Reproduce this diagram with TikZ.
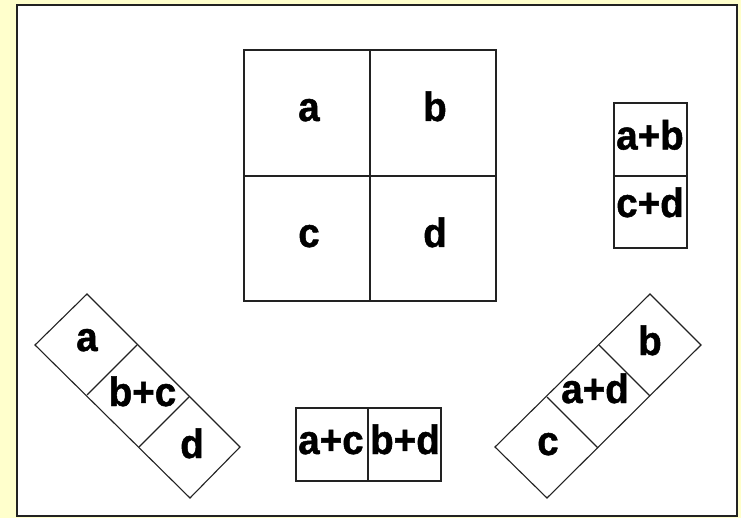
\documentclass[tikz,border=0pt]{standalone}
\usepackage{fontspec}
\setmainfont{Liberation Sans}
\newfontfamily\heavyfont[FakeBold=1.2, FakeStretch=0.94]{Liberation Sans Bold}
\definecolor{bgyellow}{HTML}{FFFFCC}
\definecolor{edge}{HTML}{222222}
\tikzset{
  frame/.style={draw=edge, line width=2pt, fill=white},
  cellline/.style={draw=edge, line width=1.1pt, line join=miter},
  lbl/.style={font=\heavyfont\fontsize{41}{41}\selectfont, anchor=base, inner sep=0pt, text=black}
}
\begin{document}
\begin{tikzpicture}[x=1pt,y=-1pt]
\useasboundingbox (0,0) rectangle (741,518);
\fill[bgyellow] (0,0) rectangle (741,518);
\draw[frame] (17,5) rectangle (737,516);
% big square
\draw[cellline] (244,50) rectangle (496,301);
\draw[cellline] (370,50) -- (370,301);
\draw[cellline] (244,176) -- (496,176);
\node[lbl] (sa) at (309,121) {a};
\node[lbl] (sb) at (435,121) {b};
\node[lbl] (sc) at (309,247) {c};
\node[lbl] (sd) at (435,247) {d};
% tall box right
\draw[cellline] (614,103) rectangle (687,248);
\draw[cellline] (614,176) -- (687,176);
\node[lbl] (tab) at (650,149.5) {a+b};
\node[lbl] (tcd) at (650,217) {c+d};
% bottom box
\draw[cellline] (296,408) rectangle (441,481);
\draw[cellline] (368,408) -- (368,481);
\node[lbl] (bac) at (331,454) {a+c};
\node[lbl] (bbd) at (405,454) {b+d};
% left diagonal strip
\draw[cellline] (87,294) -- (240,447) -- (190,498) -- (35,345) -- cycle;
\draw[cellline] (137,345) -- (87,395);
\draw[cellline] (189,397) -- (139,447);
\node[lbl] (la) at (87,351) {a};
\node[lbl] (lbc) at (142.5,406) {b+c};
\node[lbl] (ld) at (192,458) {d};
% right diagonal strip
\draw[cellline] (650,294) -- (701,345) -- (547,498) -- (495,447) -- cycle;
\draw[cellline] (599,345) -- (650,396);
\draw[cellline] (547,397) -- (598,448);
\node[lbl] (rb) at (650,355) {b};
\node[lbl] (rad) at (595,403) {a+d};
\node[lbl] (rc) at (548,455) {c};
\end{tikzpicture}
\end{document}
